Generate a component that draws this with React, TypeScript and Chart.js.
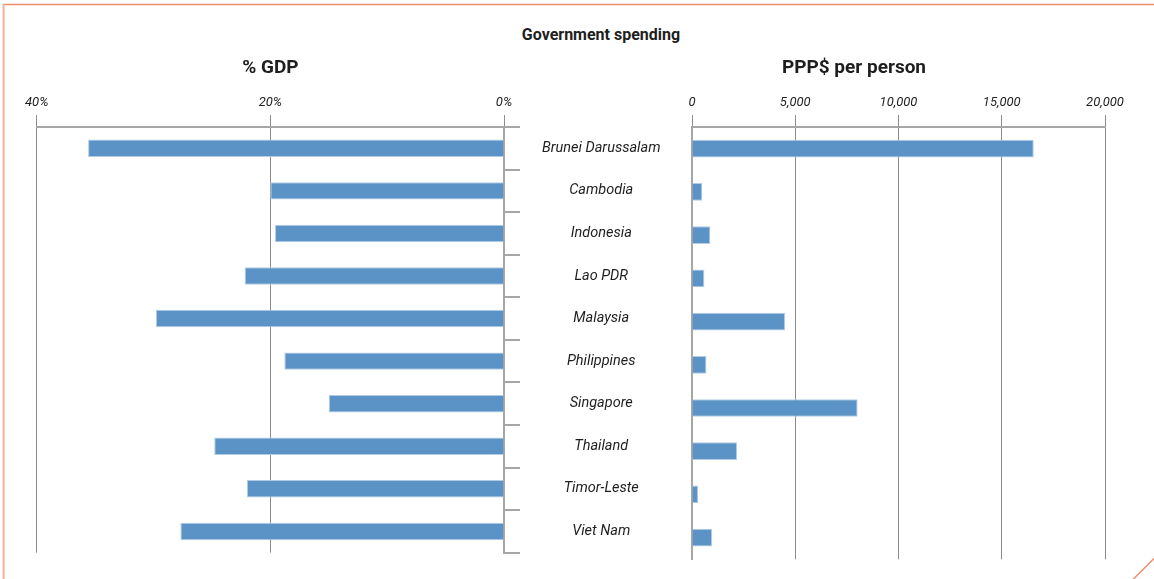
import React, { useEffect, useRef } from 'react';
import { Chart, registerables } from 'chart.js';

Chart.register(...registerables);

const categories = [
  'Brunei Darussalam',
  'Cambodia',
  'Indonesia',
  'Lao PDR',
  'Malaysia',
  'Philippines',
  'Singapore',
  'Thailand',
  'Timor-Leste',
  'Viet Nam',
];
const gdpShare = [35.6, 20.0, 19.6, 22.2, 29.8, 18.8, 15.0, 24.8, 22.0, 27.7];
const pppPerPerson = [16550, 500, 890, 600, 4510, 700, 8020, 2180, 300, 970];

const gdpTickValues = [0, 20, 40];
const gdpTickLabels = ['0%', '20%', '40%'];
const pppTickValues = [0, 5000, 10000, 15000, 20000];
const pppTickLabels = ['0', '5,000', '10,000', '15,000', '20,000'];

const mainTitle = 'Government spending';
const leftTitle = '% GDP';
const rightTitle = 'PPP$ per person';

const FONT = 'Roboto, "Noto Sans", sans-serif';
const BAR_FILL = '#5b93c6';
const BAR_EDGE = '#b3cce6';
const GRID = '#8c8c8c';
const AXIS = '#a6a6a6';
const TEXT = '#1e1e1e';

const tickFont = { family: FONT, size: 13, style: 'italic' as const };
const titleFont = { family: FONT, size: 19, weight: 'bold' as const };

function LeftChart() {
  const ref = useRef<HTMLCanvasElement | null>(null);
  useEffect(() => {
    if (!ref.current) return;
    const chart = new Chart(ref.current, {
      type: 'bar',
      data: {
        labels: categories,
        datasets: [
          {
            data: gdpShare,
            backgroundColor: BAR_FILL,
            borderColor: BAR_EDGE,
            borderWidth: 1,
            barPercentage: 0.41,
            categoryPercentage: 1,
          },
        ],
      },
      options: {
        indexAxis: 'y',
        animation: false,
        responsive: false,
        maintainAspectRatio: false,
        layout: { padding: { left: 36.7, right: 16, top: 56.6, bottom: 26.3 } },
        plugins: {
          legend: { display: false },
          tooltip: { enabled: false },
          title: {
            display: true,
            text: leftTitle,
            fullSize: false,
            color: TEXT,
            font: titleFont,
            padding: { top: 0, bottom: 12 },
          },
        },
        scales: {
          x: {
            type: 'linear',
            position: 'top',
            reverse: true,
            min: 0,
            max: 40,
            ticks: {
              stepSize: 20,
              padding: 4,
              maxRotation: 0,
              color: TEXT,
              font: tickFont,
              callback: (v: any) => {
                const i = gdpTickValues.indexOf(Number(v));
                return i >= 0 ? gdpTickLabels[i] : '';
              },
            },
            grid: { color: GRID, lineWidth: 1, tickLength: 12, tickColor: GRID },
            border: { display: true, color: AXIS, width: 2 },
          },
          y: {
            type: 'category',
            position: 'right',
            offset: true,
            grid: {
              offset: true,
              drawOnChartArea: false,
              tickLength: 16,
              color: AXIS,
              lineWidth: 2,
            },
            border: { display: true, color: AXIS, width: 2 },
            ticks: {
              crossAlign: 'center',
              padding: 22,
              color: TEXT,
              font: { family: FONT, size: 14.5, style: 'italic' },
            },
            afterFit: (s: any) => {
              s.width = 160;
              s.paddingTop = 0;
              s.paddingBottom = 0;
            },
          },
        },
      },
    } as any);
    return () => chart.destroy();
  }, []);
  return (
    <canvas
      ref={ref}
      width={680}
      height={579}
      style={{ position: 'absolute', left: 0, top: 0, width: 680, height: 579 }}
    />
  );
}

function RightChart() {
  const ref = useRef<HTMLCanvasElement | null>(null);
  useEffect(() => {
    if (!ref.current) return;
    const chart = new Chart(ref.current, {
      type: 'bar',
      data: {
        labels: categories,
        datasets: [
          {
            data: pppPerPerson,
            backgroundColor: BAR_FILL,
            borderColor: BAR_EDGE,
            borderWidth: 1,
            barPercentage: 0.41,
            categoryPercentage: 1,
          },
        ],
      },
      options: {
        indexAxis: 'y',
        animation: false,
        responsive: false,
        maintainAspectRatio: false,
        layout: { padding: { left: 0, right: 0, top: 56.6, bottom: 19.7 } },
        plugins: {
          legend: { display: false },
          tooltip: { enabled: false },
          title: {
            display: true,
            text: rightTitle,
            fullSize: true,
            color: TEXT,
            font: titleFont,
            padding: { top: 0, bottom: 12 },
          },
        },
        scales: {
          x: {
            type: 'linear',
            position: 'top',
            min: 0,
            max: 20000,
            ticks: {
              stepSize: 5000,
              padding: 4,
              maxRotation: 0,
              color: TEXT,
              font: tickFont,
              callback: (v: any) => {
                const i = pppTickValues.indexOf(Number(v));
                return i >= 0 ? pppTickLabels[i] : '';
              },
            },
            grid: { color: GRID, lineWidth: 1, tickLength: 12, tickColor: GRID },
            border: { display: true, color: AXIS, width: 2 },
            afterFit: (s: any) => {
              s.paddingRight = 21;
            },
          },
          y: {
            type: 'category',
            position: 'left',
            offset: true,
            grid: { display: true, drawOnChartArea: false, drawTicks: false, offset: true },
            border: { display: true, color: AXIS, width: 2 },
            ticks: { display: false },
            afterFit: (s: any) => {
              s.width = 110;
            },
          },
        },
      },
    } as any);
    return () => chart.destroy();
  }, []);
  return (
    <canvas
      ref={ref}
      width={544}
      height={579}
      style={{ position: 'absolute', left: 582, top: 0, width: 544, height: 579 }}
    />
  );
}

export default function App() {
  return (
    <div
      style={{
        position: 'fixed',
        left: 0,
        top: 0,
        width: 1154,
        height: 579,
        overflow: 'hidden',
        background: '#ffffff',
      }}
    >
      <svg
        width={1154}
        height={579}
        style={{ position: 'absolute', left: 0, top: 0 }}
      >
        <line x1={3} y1={4.5} x2={1154} y2={4.5} stroke="#f08a6c" strokeWidth={1.6} />
        <line x1={3.6} y1={4} x2={3.6} y2={579} stroke="#f6ad99" strokeWidth={2} />
        <line x1={1133} y1={579.5} x2={1154.5} y2={558} stroke="#f08a6c" strokeWidth={1.4} />
      </svg>
      <div
        style={{
          position: 'absolute',
          left: 451,
          top: 25.3,
          width: 300,
          textAlign: 'center',
          fontFamily: FONT,
          fontWeight: 'bold',
          fontSize: 16,
          lineHeight: '20px',
          color: TEXT,
          whiteSpace: 'nowrap',
        }}
      >
        {mainTitle}
      </div>
      <LeftChart />
      <RightChart />
    </div>
  );
}
